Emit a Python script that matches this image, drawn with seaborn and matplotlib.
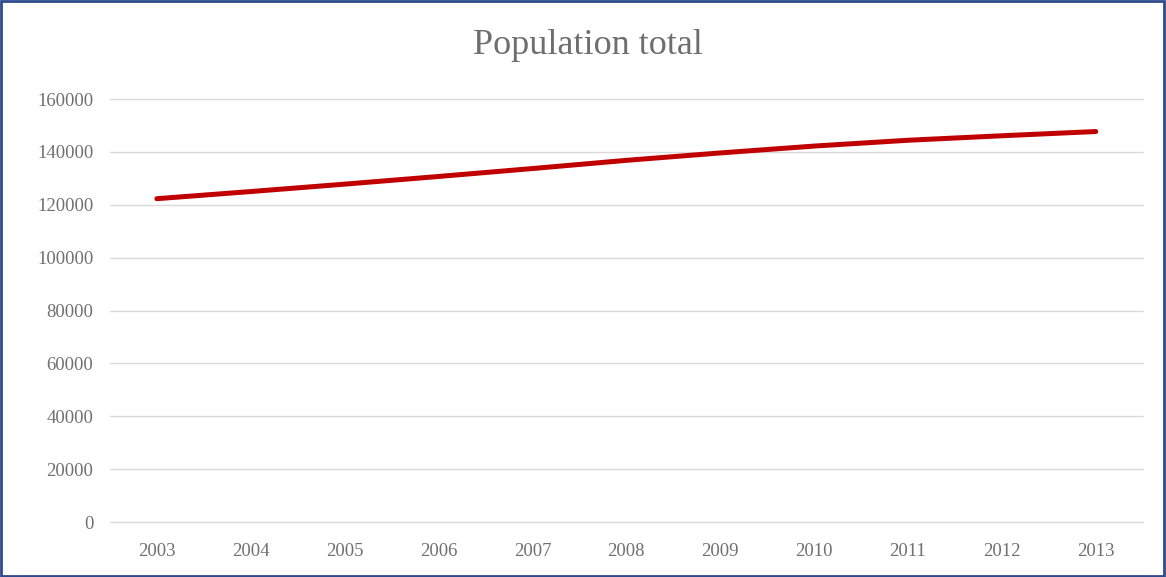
import seaborn as sns
import matplotlib.pyplot as plt
import pandas as pd

# dados
anos = [2003, 2004, 2005, 2006, 2007, 2008, 2009, 2010, 2011, 2012, 2013]
populacao = [122300, 125000, 127800, 130700, 133700, 136800, 139600, 142200, 144400, 146100, 147700]
yticks = [0, 20000, 40000, 60000, 80000, 100000, 120000, 140000, 160000]

df = pd.DataFrame({'ano': anos, 'populacao': populacao})

sns.set_style('white')
plt.rcParams['font.family'] = ['Liberation Serif', 'DejaVu Serif']

fig = plt.figure(figsize=(11.66, 5.77), dpi=100)
ax = fig.add_axes([0.0943, 0.0953, 0.8857, 0.7331])

sns.lineplot(data=df, x='ano', y='populacao', color='#C00000', linewidth=3.6,
             solid_capstyle='round', ax=ax)

ax.set_xlim(2002.5, 2013.5)
ax.set_ylim(0, 160000)
ax.set_yticks(yticks)
ax.set_yticklabels([str(v) for v in yticks])
ax.set_xticks(anos)
ax.set_xticklabels([str(a) for a in anos])
ax.yaxis.grid(True, color='#d9d9d9', linewidth=1)
for gl in ax.get_ygridlines():
    gl.set_clip_on(False)
ax.set_axisbelow(True)
for s in ax.spines.values():
    s.set_visible(False)
ax.tick_params(axis='both', length=0, labelsize=13.5, colors='#707070')
ax.tick_params(axis='y', pad=12)
ax.tick_params(axis='x', pad=15)
ax.set_xlabel('')
ax.set_ylabel('')

fig.text(0.504, 0.922, 'Population total', ha='center', va='center',
         fontsize=26, color='#6e6e6e')

# moldura azul em volta da figura
fig.patches.append(plt.Rectangle((0.001, 0.002), 0.997, 0.996, transform=fig.transFigure,
                                 fill=False, edgecolor='#2f4a8a', linewidth=2))

fig.savefig('out.png', dpi=100)
